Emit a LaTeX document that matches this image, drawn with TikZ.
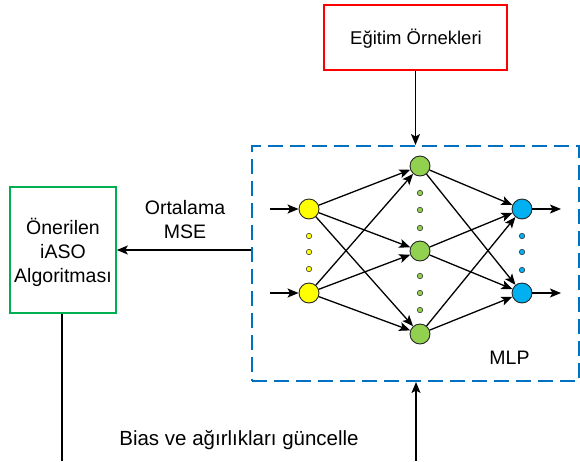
\documentclass[tikz,border=0pt]{standalone}
\usepackage{fontspec}
\setmainfont{Liberation Sans}
\usetikzlibrary{arrows.meta,positioning}
\definecolor{mlpblue}{RGB}{0,112,192}
\definecolor{boxred}{RGB}{255,0,0}
\definecolor{boxgreen}{RGB}{0,176,80}
\definecolor{nyellow}{RGB}{255,255,0}
\definecolor{ngreen}{RGB}{146,208,80}
\definecolor{nblue}{RGB}{0,176,240}
\tikzset{
  lbl/.style={font=\fontsize{19.5}{24}\selectfont, align=center, inner sep=0pt},
  neuron/.style={circle, draw=black!85, line width=0.9pt, minimum size=20pt, inner sep=0pt},
  dotn/.style={circle, draw=black!85, line width=0.5pt, minimum size=5.5pt, inner sep=0pt},
  conn/.style={line width=1.3pt, -{Stealth[length=11pt,width=9pt,inset=2.5pt]}},
  plain/.style={line width=1.3pt},
}
\begin{document}
\begin{tikzpicture}[x=1pt,y=-1pt]
\useasboundingbox (0,0) rectangle (580,461);
% boxes
\node[draw=boxred, line width=2pt, minimum width=183pt, minimum height=65pt, inner sep=0pt] (red) at (415.5,37.5) {};
\node[lbl, font=\fontsize{18.5}{22}\selectfont] (redt) at (416,38.5) {Eğitim Örnekleri};
\node[draw=mlpblue, line width=2pt, dash pattern=on 15pt off 7pt, minimum width=327pt, minimum height=235pt, inner sep=0pt] (mlp) at (415.5,263.5) {};
\node[draw=boxgreen, line width=1.6pt, minimum width=106pt, minimum height=126pt, inner sep=0pt] (alg) at (63,250) {};
\node[lbl] (algt) at (63,252) {Önerilen\\iASO\\Algoritması};
\node[lbl] (mse) at (185,220) {Ortalama\\MSE};
\node[lbl] (mlpt) at (509.5,358) {MLP};
\node[lbl, font=\fontsize{20.5}{24}\selectfont] (bias) at (239,440) {Bias ve ağırlıkları güncelle};
% neurons
\node[neuron, fill=nyellow] (y1) at (309,209) {};
\node[neuron, fill=nyellow] (y2) at (309,293) {};
\node[neuron, fill=ngreen] (g1) at (420,166) {};
\node[neuron, fill=ngreen] (g2) at (420,251) {};
\node[neuron, fill=ngreen] (g3) at (420,334) {};
\node[neuron, fill=nblue] (b1) at (522,209) {};
\node[neuron, fill=nblue] (b2) at (522,293) {};
% dots
\foreach \i/\y in {1/236,2/252,3/269} \node[dotn, fill=nyellow] (yd\i) at (309,\y) {};
\foreach \i/\y in {1/193,2/210,3/228,4/276,5/293,6/310} \node[dotn, fill=ngreen] (gd\i) at (420,\y) {};
\foreach \i/\y in {1/236,2/252,3/270} \node[dotn, fill=nblue] (bd\i) at (522,\y) {};
% connections
\foreach \a in {y1,y2} \foreach \b in {g1,g2,g3} \draw[conn] (\a) -- (\b);
\foreach \a in {g1,g2,g3} \foreach \b in {b1,b2} \draw[conn] (\a) -- (\b);
\coordinate (i1) at (270,209);
\coordinate (i2) at (270,293);
\coordinate (o1) at (561,209);
\coordinate (o2) at (561,293);
\draw[conn] (i1) -- (y1);
\draw[conn] (i2) -- (y2);
\draw[conn] (b1) -- (o1);
\draw[conn] (b2) -- (o2);
% outer connectors
\draw[conn] (red.south) -- (red.south |- mlp.north);
\draw[conn] (mlp.west |- alg.east) -- (alg.east);
\coordinate (e1) at (62,461);
\coordinate (e2) at (416,461);
\draw[plain] (alg.south -| e1) -- (e1);
\draw[conn] (e2) -- (e2 |- mlp.south);
\end{tikzpicture}
\end{document}
